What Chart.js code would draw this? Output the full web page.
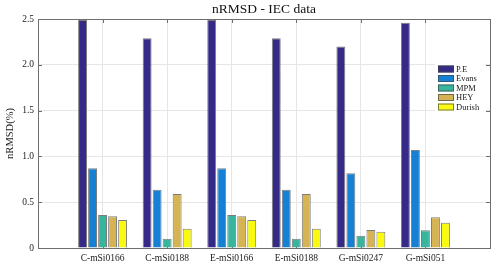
<!DOCTYPE html>
<html><head><meta charset="utf-8">
<script src="https://cdn.jsdelivr.net/npm/chart.js@4/dist/chart.umd.min.js"></script>
<style>html,body{margin:0;padding:0;background:#fff}#wrap{width:502px;height:265px}</style>
</head><body><div id="wrap"><canvas id="c" width="502" height="265"></canvas></div>
<script>
const categories = ['C-mSi0166','C-mSi0188','E-mSi0166','E-mSi0188','G-mSi0247','G-mSi051'];
const seriesNames = ['P.E','Evans','MPM','HEY','Durish'];
const peValues = [2.49, 2.29, 2.49, 2.29, 2.20, 2.46];
const evansValues = [0.87, 0.636, 0.87, 0.636, 0.815, 1.07];
const mpmValues = [0.36, 0.10, 0.36, 0.10, 0.134, 0.193];
const heyValues = [0.346, 0.59, 0.346, 0.59, 0.197, 0.335];
const durishValues = [0.306, 0.21, 0.306, 0.21, 0.178, 0.276];
const yTickValues = [0, 0.5, 1, 1.5, 2, 2.5];
const seriesColors = ['#352a87','#1580d4','#38b59d','#d7b453','#f9fa10'];

const FONT = "'Liberation Serif', 'DejaVu Serif', serif";
const pad = arr => [null, ...arr, null];
const allSeries = [peValues, evansValues, mpmValues, heyValues, durishValues];

const datasets = allSeries.map((vals, i) => ({
  label: seriesNames[i],
  data: pad(vals),
  backgroundColor: seriesColors[i],
  borderColor: 'rgba(70,70,70,0.7)',
  borderWidth: 1,
  categoryPercentage: 0.775,
  barPercentage: 0.89
}));

const framePlugin = {
  id: 'frame',
  beforeDatasetsDraw(chart) {
    const ctx = chart.ctx, a = chart.chartArea;
    const xs = chart.scales.x, ys = chart.scales.y;
    ctx.save();
    ctx.strokeStyle = '#6e6e6e';
    ctx.lineWidth = 1;
    ctx.beginPath();
    yTickValues.forEach(v => {
      const y = Math.round(ys.getPixelForValue(v)) + 0.5;
      ctx.moveTo(a.left, y); ctx.lineTo(a.left + 4, y);
      ctx.moveTo(a.right, y); ctx.lineTo(a.right - 4, y);
    });
    categories.forEach((c, i) => {
      const x = Math.round(xs.getPixelForValue(i + 1)) + 0.5;
      ctx.moveTo(x, a.bottom); ctx.lineTo(x, a.bottom - 4);
      ctx.moveTo(x, a.top); ctx.lineTo(x, a.top + 4);
    });
    ctx.stroke();
    ctx.restore();
  },
  afterDraw(chart) {
    const ctx = chart.ctx, a = chart.chartArea;
    ctx.save();
    ctx.strokeStyle = '#6e6e6e';
    ctx.lineWidth = 1;
    ctx.strokeRect(Math.round(a.left) + 0.5, Math.round(a.top) + 0.5,
      Math.round(a.right - a.left), Math.round(a.bottom - a.top));
    // title
    ctx.fillStyle = '#111';
    ctx.font = '13.5px ' + FONT;
    ctx.textAlign = 'center';
    ctx.textBaseline = 'middle';
    ctx.fillText('nRMSD - IEC data', (a.left + a.right) / 2, 9);
    // legend inside plot
    const lx = 438, ly0 = 69, step = 9.5;
    ctx.fillStyle = '#fff';
    ctx.fillRect(lx - 3, ly0 - 6, 50, step * 5 + 3);
    ctx.font = '8.5px ' + FONT;
    ctx.textAlign = 'left';
    chart.data.datasets.forEach((ds, i) => {
      const y = ly0 + i * step;
      ctx.fillStyle = ds.backgroundColor;
      ctx.fillRect(lx, y - 3.5, 16, 7);
      ctx.strokeStyle = 'rgba(70,70,70,0.7)';
      ctx.strokeRect(lx + 0.5, y - 3.5 + 0.5, 15, 6);
      ctx.fillStyle = '#222';
      ctx.fillText(ds.label, lx + 18, y + 0.5);
    });
    ctx.restore();
  }
};

new Chart(document.getElementById('c'), {
  type: 'bar',
  data: { labels: ['', ...categories, ''], datasets },
  options: {
    responsive: false,
    devicePixelRatio: 1,
    animation: false,
    layout: { padding: { top: 19, right: 12, left: 0, bottom: 0 } },
    plugins: { legend: { display: false }, title: { display: false }, tooltip: { enabled: false } },
    scales: {
      x: {
        offset: false,
        grid: { offset: false, color: '#e6e6e6', drawTicks: false },
        border: { display: false },
        ticks: { color: '#222', font: { family: FONT, size: 9.5 }, padding: 5, maxRotation: 0, autoSkip: false },
        afterFit(s) { s.height = 17; }
      },
      y: {
        min: 0, max: 2.5,
        grid: { color: '#e6e6e6', drawTicks: false },
        border: { display: false },
        afterBuildTicks(s) { s.ticks = yTickValues.map(v => ({ value: v })); },
        ticks: { color: '#222', font: { family: FONT, size: 9.5 }, padding: 4 },
        title: { display: true, text: 'nRMSD(%)', color: '#222', font: { family: FONT, size: 10.5 }, padding: { top: 4, bottom: 0 } },
        afterFit(s) { s.width = 38; }
      }
    }
  },
  plugins: [framePlugin]
});
</script></body></html>
